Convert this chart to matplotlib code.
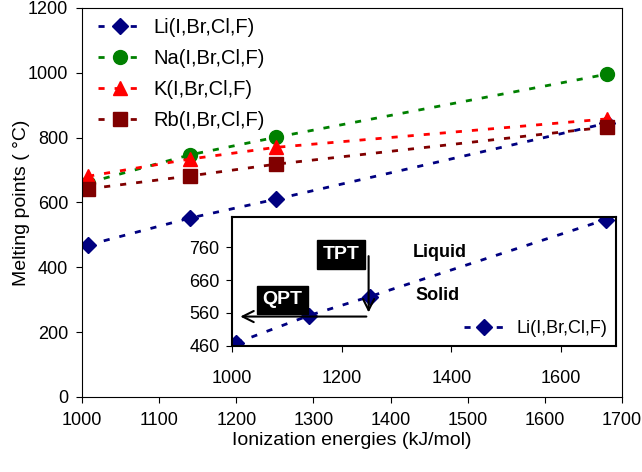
import matplotlib
matplotlib.use("Agg")
from matplotlib import pyplot as plt

plt.rcParams['font.family'] = ['Liberation Sans', 'DejaVu Sans']

# ionization energies of the halide (I, Br, Cl, F), kJ/mol
energies = [1008, 1140, 1251, 1681]
li = [469, 552, 610, 845]
na = [661, 747, 801, 996]
k = [681, 734, 770, 858]
rb = [642, 682, 718, 833]
names = ["Li(I,Br,Cl,F)", "Na(I,Br,Cl,F)", "K(I,Br,Cl,F)", "Rb(I,Br,Cl,F)"]

navy = "#000080"
green = "#008000"
red = "#ff0000"
maroon = "#800000"
dash = (0, (2.2, 3.6))

fig = plt.figure(figsize=(6.42, 4.72), dpi=100)
ax = fig.add_axes([0.1277, 0.1589, 0.8411, 0.8242])

ax.plot(energies, li, color=navy, ls=dash, lw=2, marker="D", ms=8.5, label=names[0])
ax.plot(energies, na, color=green, ls=dash, lw=2, marker="o", ms=10, label=names[1])
ax.plot(energies, k, color=red, ls=dash, lw=2, marker="^", ms=10, label=names[2])
ax.plot(energies, rb, color=maroon, ls=dash, lw=2, marker="s", ms=10, label=names[3])

ax.set_xlim(1000, 1700)
ax.set_ylim(0, 1200)
ax.set_xticks(range(1000, 1701, 100))
ax.set_yticks(range(0, 1201, 200))
ax.tick_params(direction="out", labelsize=13, length=4, pad=6)
ax.tick_params(axis="x", pad=7)
ax.set_xlabel("Ionization energies (kJ/mol)", fontsize=14, labelpad=2)
ax.set_ylabel("Melting points ( °C)", fontsize=14, labelpad=-2)
ax.legend(loc="upper left", bbox_to_anchor=(0.015, 0.995), frameon=False,
          fontsize=14.5, handlelength=2.2, labelspacing=0.6,
          borderaxespad=0, handletextpad=0.55)

# inset with lithium only
ins = fig.add_axes([0.3614, 0.2669, 0.5981, 0.2733])
ins.set_facecolor("white")
ins.plot(energies, li, color=navy, ls=dash, lw=2, marker="D", ms=8.5, label=names[0])
ins.set_xlim(1000, 1700)
ins.set_ylim(459, 853)
ins.set_xticks(range(1000, 1701, 200))
ins.set_yticks([460, 560, 660, 760])
ins.tick_params(direction="out", labelsize=13, length=4, pad=5)
ins.tick_params(axis="x", pad=13)
for s in ins.spines.values():
    s.set_linewidth(1.5)
ins.legend(loc="lower right", frameon=False, fontsize=13, handlelength=2.3,
           handletextpad=0.6, borderaxespad=0.1)

ins.annotate("", xy=(1249, 553), xytext=(1249, 742),
             arrowprops=dict(arrowstyle="->", color="black", lw=1.5, mutation_scale=20))
ins.annotate("", xy=(1010, 549), xytext=(1250, 549),
             arrowprops=dict(arrowstyle="->", color="black", lw=1.5, mutation_scale=20))
ins.text(1199, 738, "TPT", color="white", fontsize=14, fontweight="bold",
         ha="center", va="center",
         bbox=dict(facecolor="black", edgecolor="black", boxstyle="square,pad=0.3"))
ins.text(1092, 600, "QPT", color="white", fontsize=14, fontweight="bold",
         ha="center", va="center",
         bbox=dict(facecolor="black", edgecolor="black", boxstyle="square,pad=0.3"))
ins.text(1378, 746, "Liquid", fontsize=13, fontweight="bold", ha="center", va="center")
ins.text(1375, 612, "Solid", fontsize=13, fontweight="bold", ha="center", va="center")

fig.savefig("out.png", dpi=100)
